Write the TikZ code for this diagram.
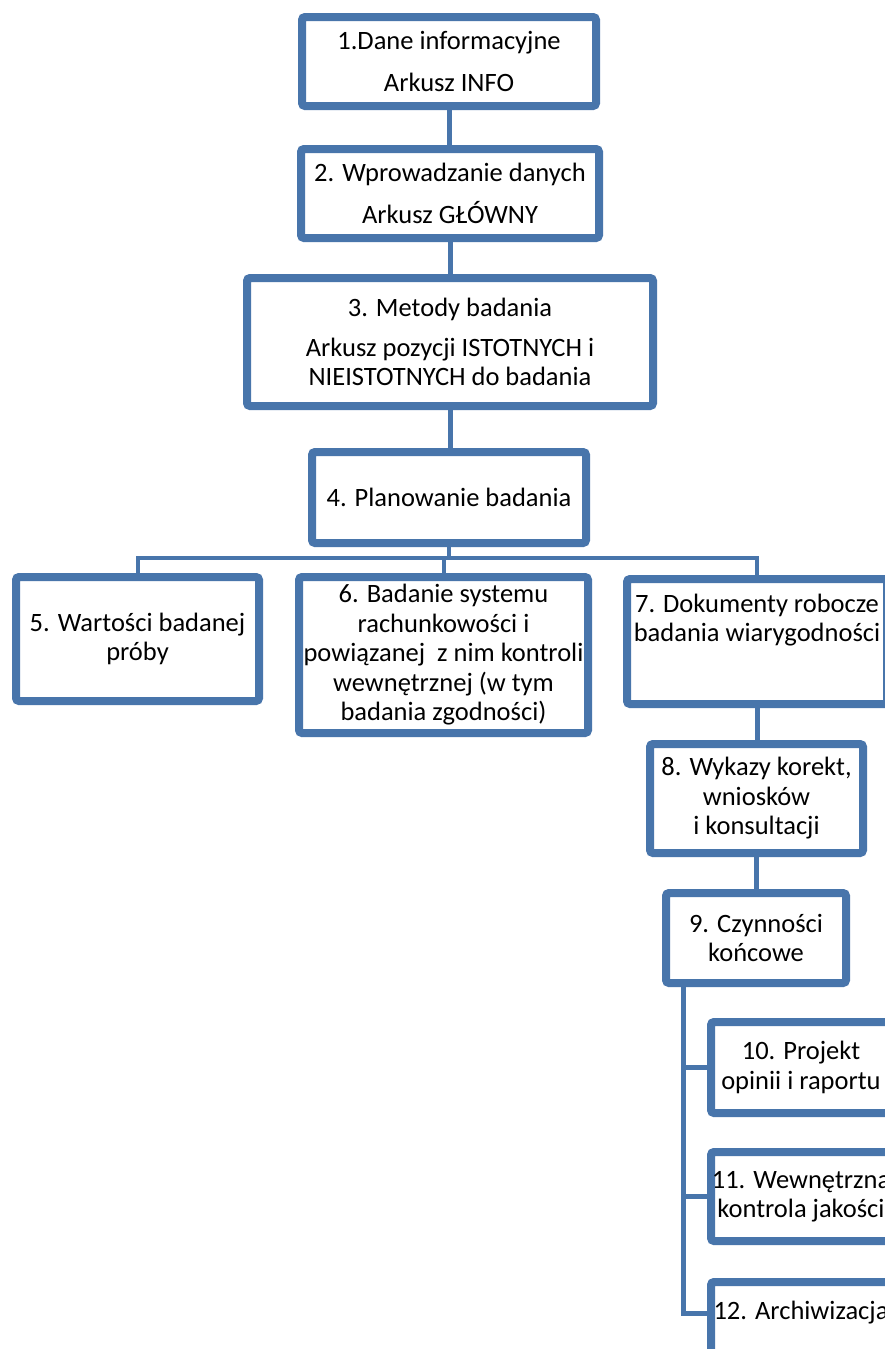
\documentclass[tikz,border=0pt]{standalone}
\usepackage{fontspec}
\setmainfont{Carlito}
\usetikzlibrary{shadows}
\definecolor{boxblue}{RGB}{72,117,171}
\tikzset{
  box/.style={draw=boxblue, line width=8pt, fill=white, rounded corners=3pt,
    align=center, inner sep=0pt, text=black,
    font=\fontsize{26.5}{29.5}\selectfont,
    drop shadow={shadow xshift=1.5pt, shadow yshift=-3pt, opacity=0.22, fill=black}},
  txt/.style={align=center, inner sep=0pt, text=black, font=\fontsize{26.5}{29.5}\selectfont},
  conn/.style={draw=boxblue, line width=5pt},
  bus/.style={draw=boxblue, line width=4pt}
}
\begin{document}
\begin{tikzpicture}[x=1pt,y=-1pt]
\useasboundingbox (0,0) rectangle (885,1349);
\clip (0,0) rectangle (885,1349);
\fill[white] (0,0) rectangle (885,1349);
% boxes (outer size minus line width)
\node[box, minimum width=294pt, minimum height=89pt] (b1) at (449,61.5)
  {1.Dane informacyjne\\[12pt]Arkusz INFO};
\node[box, minimum width=298pt, minimum height=89pt] (b2) at (450,193.5)
  {2. Wprowadzanie danych\\[13pt]Arkusz GŁÓWNY};
\node[box, minimum width=406pt, minimum height=128pt] (b3) at (450,342)
  {3. Metody badania\\[10pt]Arkusz pozycji ISTOTNYCH i\\NIEISTOTNYCH do badania};
\node[box, minimum width=274pt, minimum height=91pt] (b4) at (449,497.5)
  {4. Planowanie badania};
\node[box, minimum width=243pt, minimum height=124pt] (b5) at (137.5,639)
  {5. Wartości badanej\\próby};
\node[box, minimum width=289pt, minimum height=156pt] (b6) at (443.5,655)
  {6. Badanie systemu\\rachunkowości i\\powiązanej\ \ z nim kontroli\\wewnętrznej (w tym\\badania zgodności)};
\node[box, minimum width=260pt, minimum height=125pt] (b7) at (757,641.5) {};
\node[txt] (t7) at (757,620) {7. Dokumenty robocze\\badania wiarygodności};
\node[box, minimum width=213pt, minimum height=109pt] (b8) at (756.5,798.5)
  {8. Wykazy korekt,\\wniosków\\i konsultacji};
\node[box, minimum width=180pt, minimum height=90pt] (b9) at (756,938)
  {9. Czynności\\końcowe};
\node[box, minimum width=180pt, minimum height=91pt] (b10) at (801,1067.5)
  {10. Projekt\\opinii i raportu};
\node[box, minimum width=180pt, minimum height=89pt] (b11) at (801,1196.5)
  {11. Wewnętrzna\\kontrola jakości};
\node[box, minimum width=180pt, minimum height=84pt] (b12) at (801,1324) {};
\node[txt] (t12) at (801,1313) {12. Archiwizacja};
% connectors
\coordinate (busy) at (449,558);
\coordinate (t9) at (683,987);
\draw[conn] (b1.south) -- (b1.south |- b2.north);
\draw[conn] (b2.south) -- (b2.south |- b3.north);
\draw[conn] (b3.south) -- (b3.south |- b4.north);
\draw[bus] (b4.south) -- (b4.south |- busy);
\draw[bus] (b5.north) |- (busy) -| (b7.north);
\draw[bus] (b6.north) -- (b6.north |- busy);
\draw[conn] (b7.south) -- (b7.south |- b8.north);
\draw[conn] (b8.south) -- (b8.south |- b9.north);
\draw[conn] (t9) |- (b12.west |- t12);
\draw[conn] (t9 |- b10.west) -- (b10.west);
\draw[conn] (t9 |- b11.west) -- (b11.west);
\end{tikzpicture}
\end{document}
